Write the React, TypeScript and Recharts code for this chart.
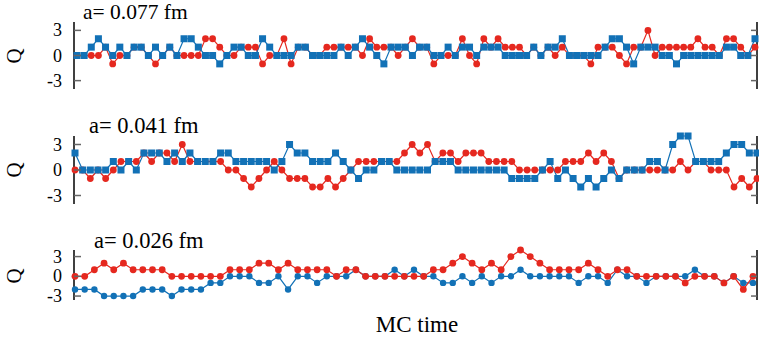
import { LineChart, Line, XAxis, YAxis } from "recharts";

// topological charge Q vs MC time, three lattice spacings
const topBlue = [0,0,1,2,1,0,1,0,1,1,0,1,0,1,0,2,2,1,0,0,-1,0,1,1,0,0,2,1,0,0,0,1,1,0,0,0,0,1,0,1,2,1,0,-1,1,1,1,0,1,1,0,0,1,0,1,1,0,1,1,1,0,0,0,0,1,0,1,1,2,0,0,0,0,0,1,2,2,1,-1,1,1,1,0,0,-1,0,0,0,0,0,0,1,1,0,0,2];
const topRed = [0,0,0,0,1,-1,0,0,1,1,0,-1,0,1,0,0,0,0,2,2,1,0,0,1,1,1,-1,0,0,2,-1,1,1,0,0,1,1,1,1,1,0,2,1,1,1,0,1,2,1,1,-1,0,0,0,2,0,-1,2,1,2,1,1,1,0,1,0,1,0,1,0,0,0,-1,1,1,1,0,-1,1,1,3,0,1,1,1,1,1,2,1,1,0,2,2,1,0,1];

const midBlue = [2,0,0,0,0,1,0,1,0,2,2,2,1,2,1,2,1,1,1,2,2,1,1,1,1,1,0,1,3,2,2,1,1,1,2,1,0,-1,0,0,1,1,0,0,0,0,0,1,1,1,0,0,0,0,0,0,0,-1,-1,-1,-1,0,1,-1,0,-1,-2,-1,-2,-1,0,-1,0,0,0,1,1,0,3,4,4,1,1,1,1,2,3,3,2,2];
const midRed = [0,0,-1,0,-1,0,1,1,1,2,1,2,2,1,3,1,1,1,1,1,0,0,-1,-2,-1,0,1,0,-1,-1,-1,-2,-2,-1,-2,-1,0,1,1,1,1,1,1,2,3,2,3,1,2,2,1,2,2,2,1,1,1,1,0,0,0,0,0,0,1,1,1,2,1,2,1,-1,0,0,0,0,0,0,0,1,0,1,1,0,0,0,-2,-1,-2,-1];

const botBlue = [-2,-2,-2,-3,-3,-3,-3,-2,-2,-2,-3,-2,-2,-2,-1,-1,0,0,0,-1,-1,0,-2,0,0,-1,0,0,0,1,0,0,0,1,0,1,0,0,-1,-1,0,-1,0,-1,0,0,1,0,0,0,0,0,-1,0,0,-1,1,0,0,-1,0,0,0,0,1,0,0,-1,0,-1,-1];
const botRed = [0,0,1,2,1,2,1,1,1,1,0,0,0,0,0,0,1,1,1,2,2,1,2,1,1,1,1,0,1,1,0,0,0,0,0,0,0,1,1,2,3,2,1,2,1,3,4,3,2,1,1,1,1,2,1,0,1,1,0,0,0,0,0,-1,0,0,0,-1,0,-2,0];

const titles = ["a= 0.077 fm", "a= 0.041 fm", "a= 0.026 fm"];
const yTicks = [-3, 0, 3];

const BLUE = "#1271b6";
const RED = "#e5281f";
const PL = 74;
const PR = 757;
const PAD = 10;
const serif = "'Liberation Serif', 'Times New Roman', serif";

const toRows = (a: number[], b: number[]) => a.map((v, i) => ({ i, blue: v, red: b[i] }));

const squareDot = (color: string, s: number) => (props: any) => {
  const { cx, cy, index } = props;
  if (cx == null || cy == null) return <g key={`sq-${index}`} />;
  return <rect key={`sq-${index}`} x={cx - s / 2} y={cy - s / 2} width={s} height={s} fill={color} />;
};

const YTick = (props: any) => {
  const { y, payload } = props;
  return (
    <g>
      <line x1={PL} x2={PL + 7} y1={y} y2={y} stroke="#666" strokeWidth={1.5} />
      <line x1={PR - 6} x2={PR} y1={y} y2={y} stroke="#666" strokeWidth={1.5} />
      <text x={62} y={y} dy="0.34em" textAnchor="end" fontSize={18} fontFamily={serif} fill="#000">
        {payload.value}
      </text>
    </g>
  );
};

type PanelProps = {
  rows: { i: number; blue: number; red: number }[];
  top: number;
  h: number;
  domain: [number, number];
  blueSquares: boolean;
  redOnTop: boolean;
  padL: number;
  padR: number;
};

function Panel({ rows, top, h, domain, blueSquares, redOnTop, padL, padR }: PanelProps) {
  const n = rows.length - 1;
  const blue = (
    <Line
      key="b"
      type="linear"
      dataKey="blue"
      stroke={BLUE}
      strokeWidth={1.2}
      dot={blueSquares ? squareDot(BLUE, 7) : { r: 3.2, fill: BLUE, stroke: "none" }}
      isAnimationActive={false}
    />
  );
  const red = (
    <Line
      key="r"
      type="linear"
      dataKey="red"
      stroke={RED}
      strokeWidth={1.2}
      dot={{ r: 3.4, fill: RED, stroke: "none" }}
      isAnimationActive={false}
    />
  );
  const frame = { stroke: "#000", strokeWidth: 1.5 };
  return (
    <div style={{ position: "absolute", left: 0, top: top - PAD }}>
      <LineChart width={759} height={h + 2 * PAD} data={rows} margin={{ top: PAD, right: 0, bottom: PAD, left: 0 }}>
        <XAxis dataKey="i" type="number" domain={[0, n]} padding={{ left: padL, right: padR }} height={0} tick={false} tickLine={false} axisLine={{ stroke: "#222", strokeWidth: 2 }} />
        <XAxis xAxisId="t" orientation="top" dataKey="i" type="number" domain={[0, n]} padding={{ left: padL, right: padR }} height={0} tick={false} tickLine={false} axisLine={frame} />
        <YAxis type="number" domain={domain} ticks={yTicks} interval={0} width={PL} tickLine={false} tick={<YTick />} axisLine={frame} />
        <YAxis yAxisId="r" orientation="right" type="number" domain={domain} width={2} tick={false} tickLine={false} axisLine={frame} />
        {redOnTop ? [blue, red] : [red, blue]}
      </LineChart>
    </div>
  );
}

export default function App() {
  return (
    <div style={{ position: "relative", width: 759, height: 341, background: "#fff", fontFamily: serif }}>
      <style>{"body{margin:0}"}</style>
      <Panel rows={toRows(topBlue, topRed)} top={22} h={67} domain={[-4, 4]} blueSquares redOnTop={false} padL={3} padR={2} />
      <Panel rows={toRows(midBlue, midRed)} top={136} h={68} domain={[-4, 4]} blueSquares redOnTop={false} padL={1} padR={0} />
      <Panel rows={toRows(botBlue, botRed)} top={250} h={50} domain={[-3.6, 3.9]} blueSquares={false} redOnTop padL={1} padR={4} />
      <svg width={759} height={341} style={{ position: "absolute", left: 0, top: 0, pointerEvents: "none" }}>
        <g fontFamily={serif} fill="#000">
          <text x={83} y={19} fontSize={21.5}>{titles[0]}</text>
          <text x={89} y={133} fontSize={22.5}>{titles[1]}</text>
          <text x={94} y={248} fontSize={22.5}>{titles[2]}</text>
          <text transform="translate(21,56) rotate(-90)" textAnchor="middle" fontSize={21}>Q</text>
          <text transform="translate(21,170) rotate(-90)" textAnchor="middle" fontSize={21}>Q</text>
          <text transform="translate(21,276) rotate(-90)" textAnchor="middle" fontSize={21}>Q</text>
          <text x={417} y={332} textAnchor="middle" fontSize={23}>MC time</text>
        </g>
      </svg>
    </div>
  );
}
